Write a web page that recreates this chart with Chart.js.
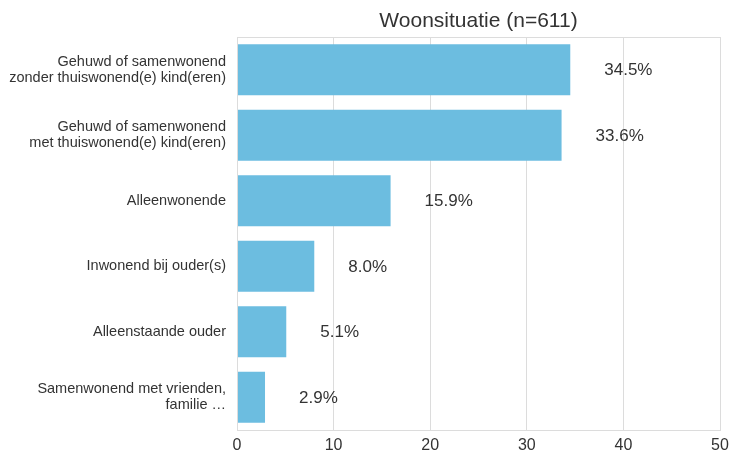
<!DOCTYPE html>
<html>
<head>
<meta charset="utf-8">
<script src="https://cdn.jsdelivr.net/npm/chart.js@4/dist/chart.umd.min.js"></script>
<style>
  html, body { margin: 0; padding: 0; background: #fff; }
  #wrap { width: 730px; height: 457px; }
</style>
</head>
<body>
<div id="wrap"><canvas id="woon"></canvas></div>
<script>
const titel = 'Woonsituatie (n=611)';
const categorieen = [
    ['Gehuwd of samenwonend', 'zonder thuiswonend(e) kind(eren)'],
    ['Gehuwd of samenwonend', 'met thuiswonend(e) kind(eren)'],
    'Alleenwonende',
    'Inwonend bij ouder(s)',
    'Alleenstaande ouder',
    ['Samenwonend met vrienden,', 'familie …']
];
const percentages = [34.5, 33.6, 15.9, 8.0, 5.1, 2.9];
const xTicks = [0, 10, 20, 30, 40, 50];

const FONT = '"Liberation Sans", Arial, sans-serif';

// waarde-labels rechts naast de balken
const waardeLabels = {
    id: 'waardeLabels',
    afterDatasetsDraw(chart) {
        const ctx = chart.ctx;
        const meta = chart.getDatasetMeta(0);
        ctx.save();
        ctx.font = '17px ' + FONT;
        ctx.fillStyle = '#333';
        ctx.textAlign = 'left';
        ctx.textBaseline = 'middle';
        meta.data.forEach((bar, i) => {
            ctx.fillText(percentages[i].toFixed(1) + '%', bar.x + 34, bar.y + 1);
        });
        ctx.restore();
    }
};

// kader rond plotgebied + titel gecentreerd boven plotgebied
const kader = {
    id: 'kader',
    afterDraw(chart) {
        const a = chart.chartArea;
        const ctx = chart.ctx;
        ctx.save();
        ctx.strokeStyle = '#dcdcdc';
        ctx.lineWidth = 1;
        ctx.strokeRect(Math.round(a.left) + 0.5, Math.round(a.top) + 0.5, Math.round(a.right - a.left), Math.round(a.bottom - a.top));
        ctx.font = '21px ' + FONT;
        ctx.fillStyle = '#333';
        ctx.textAlign = 'center';
        ctx.textBaseline = 'middle';
        ctx.fillText(titel, (a.left + a.right) / 2, 21);
        ctx.restore();
    }
};

new Chart(document.getElementById('woon').getContext('2d'), {
    type: 'bar',
    data: {
        labels: categorieen,
        datasets: [{
            data: percentages,
            backgroundColor: '#6cbde0',
            borderWidth: 0,
            categoryPercentage: 0.78,
            barPercentage: 1.0
        }]
    },
    options: {
        indexAxis: 'y',
        responsive: true,
        maintainAspectRatio: false,
        animation: false,
        layout: { padding: { left: 0, right: 0, top: 37, bottom: 0 } },
        plugins: {
            legend: { display: false },
            tooltip: { enabled: false },
            title: { display: false }
        },
        scales: {
            x: {
                min: 0,
                max: 50,
                afterBuildTicks: axis => { axis.ticks = xTicks.map(v => ({ value: v })); },
                grid: { color: '#dcdcdc', drawTicks: false },
                border: { display: false },
                ticks: {
                    color: '#333',
                    padding: 6,
                    font: { family: FONT, size: 16 }
                },
                afterFit: s => { s.height = 24; s.paddingRight = 10; }
            },
            y: {
                grid: { display: false, drawTicks: false },
                border: { display: false },
                ticks: {
                    color: '#333',
                    padding: 11,
                    font: { family: FONT, size: 14.5, lineHeight: 1.1 }
                },
                afterFit: s => { s.width = 237; }
            }
        }
    },
    plugins: [waardeLabels, kader]
});
</script>
</body>
</html>
